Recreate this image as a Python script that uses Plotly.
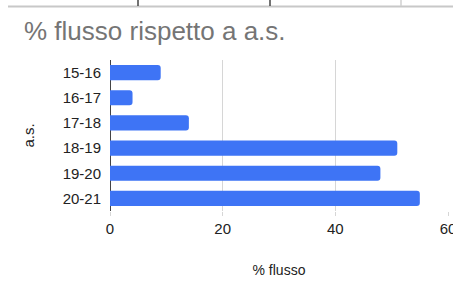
import plotly.graph_objects as go

categories = ["15-16", "16-17", "17-18", "18-19", "19-20", "20-21"]
values = [9, 4, 14, 51, 48, 55]
x_ticks = [0, 20, 40, 60]

W, H = 453, 288
L, R, T, B = 110, 5, 60, 77
pw, ph = W - L - R, H - T - B

def px_x(px):
    return (px - L) / pw

def px_y(py):
    return (H - B - py) / ph

fig = go.Figure(go.Bar(
    x=values, y=categories, orientation="h",
    marker=dict(color="#3e74f5", cornerradius=3, line=dict(width=0)),
))

shapes = [dict(type="line", xref="paper", yref="paper",
               x0=px_x(8), x1=px_x(460), y0=px_y(6.5), y1=px_y(6.5),
               line=dict(color="#c8c8c8", width=2))]
for vx, col in [(138, "#444"), (270, "#444"), (401, "#d0d0d0")]:
    shapes.append(dict(type="line", xref="paper", yref="paper",
                       x0=px_x(vx), x1=px_x(vx), y0=px_y(-2), y1=px_y(6),
                       line=dict(color=col, width=1.5)))

fig.update_layout(
    width=W, height=H,
    margin=dict(l=L, r=R, t=T, b=B, autoexpand=False),
    plot_bgcolor="white", paper_bgcolor="white",
    font=dict(family="Arial, Liberation Sans, sans-serif", color="#222", size=15),
    title=dict(text="% flusso rispetto a a.s.", x=24 / W, xanchor="left",
               xref="container", y=1 - 31 / H, yanchor="middle", yref="container",
               font=dict(size=26, color="#757575")),
    bargap=0.4,
    showlegend=False,
    shapes=shapes,
    xaxis=dict(range=[0, 60], tickvals=x_ticks, showgrid=True, gridcolor="#d6d6d6",
               zeroline=True, zerolinecolor="#444", zerolinewidth=1,
               ticks="outside", ticklen=4, tickcolor="#d6d6d6", automargin=False,
               ticklabeloverflow="allow",
               tickfont=dict(size=15, color="#222"),
               title=dict(text="% flusso", font=dict(size=14, color="#222"), standoff=29)),
    yaxis=dict(autorange="reversed", showgrid=False, ticklabelstandoff=8,
               automargin=False,
               tickfont=dict(size=15, color="#222"),
               title=dict(text="a.s.", font=dict(size=15, color="#222"), standoff=24)),
)

fig.write_html("out.html", config={"displayModeBar": False},
               post_script="document.body.style.margin='0';")
